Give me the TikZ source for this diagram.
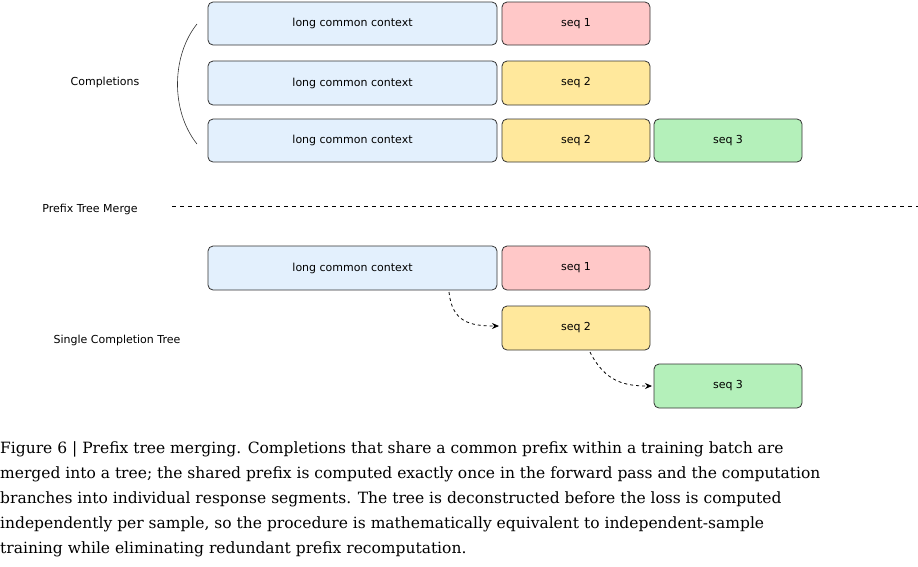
\documentclass[tikz,border=0pt]{standalone}
\usepackage{fontspec}
\setmainfont{DejaVu Serif}
\setsansfont{DejaVu Sans}
\usetikzlibrary{arrows.meta}
\definecolor{ctxblue}{HTML}{E3F0FD}
\definecolor{seqred}{HTML}{FFC8C8}
\definecolor{seqyellow}{HTML}{FFE89C}
\definecolor{seqgreen}{HTML}{B4F0BA}
\begin{document}
\begin{tikzpicture}[x=1pt,y=-1pt,
    blk/.style={draw=black!80,rounded corners=5pt,line width=0.8pt,font=\sffamily\fontsize{11}{13}\selectfont},
    lbl/.style={font=\sffamily\fontsize{11}{13}\selectfont},
    captxt/.style={anchor=base west,inner sep=0pt,font=\fontsize{15.5}{19}\selectfont},
    flow/.style={dashed,line width=0.8pt,-{Stealth[length=7pt,width=6pt]}}]
  \useasboundingbox (0,0) rectangle (918,566);
  % completions
  \foreach \r/\ya/\yb in {1/2/45,2/61/105,3/119/162}
    \draw[blk,fill=ctxblue] (208,\ya) rectangle (497,\yb) node[midway] (ctx\r) {long common context};
  \draw[blk,fill=seqred] (502,2) rectangle (650,45) node[midway] (s11) {seq 1};
  \draw[blk,fill=seqyellow] (502,61) rectangle (650,105) node[midway] (s22) {seq 2};
  \draw[blk,fill=seqyellow] (502,119) rectangle (650,162) node[midway] (s32) {seq 2};
  \draw[blk,fill=seqgreen] (654,119) rectangle (802,162) node[midway] (s33) {seq 3};
  \node[lbl] (compl) at (105,82) {Completions};
  \draw[black!80,line width=0.6pt] (197,24) .. controls (172,55) and (170,110) .. (197,144);
  % merge
  \node[lbl] (merge) at (90,209) {Prefix Tree Merge};
  \coordinate (ml) at (172,206);
  \coordinate (mr) at (918,206);
  \draw[line width=0.8pt,dash pattern=on 4pt off 4pt] (ml) -- (mr);
  % tree
  \draw[blk,fill=ctxblue] (208,246) rectangle (497,290) node[midway] (tctx) {long common context};
  \draw[blk,fill=seqred] (502,246) rectangle (650,290) node[midway] (t1) {seq 1};
  \draw[blk,fill=seqyellow] (502,306) rectangle (650,350) node[midway] (t2) {seq 2};
  \draw[blk,fill=seqgreen] (654,364) rectangle (802,408) node[midway] (t3) {seq 3};
  \node[lbl] (single) at (117,340) {Single Completion Tree};
  \coordinate (a1) at (449,292);
  \coordinate (a2) at (590,352);
  \draw[flow] (a1) .. controls (452,322) and (470,326) .. (499,326);
  \draw[flow] (a2) .. controls (605,382) and (625,386) .. (652,386);
  % caption
  \node[captxt] (c1) at (0,453) {Figure 6 | Prefix tree merging. Completions that share a common prefix within a training batch are};
  \node[captxt] (c2) at (0,478) {merged into a tree; the shared prefix is computed exactly once in the forward pass and the computation};
  \node[captxt] (c3) at (0,503) {branches into individual response segments. The tree is deconstructed before the loss is computed};
  \node[captxt] (c4) at (0,528) {independently per sample, so the procedure is mathematically equivalent to independent-sample};
  \node[captxt] (c5) at (0,553) {training while eliminating redundant prefix recomputation.};
\end{tikzpicture}
\end{document}
